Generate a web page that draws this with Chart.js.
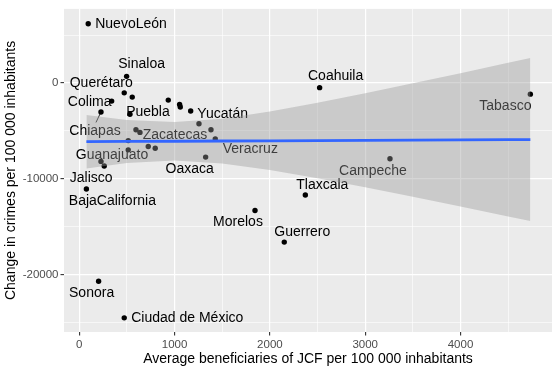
<!DOCTYPE html>
<html>
<head>
<meta charset="utf-8">
<script src="https://cdn.jsdelivr.net/npm/chart.js@4/dist/chart.umd.min.js"></script>
<style>
  html, body { margin: 0; padding: 0; background: #fff; }
  #wrap { width: 558px; height: 371px; position: relative; }
</style>
</head>
<body>
<div id="wrap"><canvas id="jcfChart"></canvas></div>
<script>
// ===== 資料 =====
const states = [
  "NuevoLeón", "Sinaloa", "Querétaro", "", "Colima", "Chiapas", "Puebla", "", "", "",
  "Yucatán", "", "", "Zacatecas", "", "Veracruz", "", "", "", "",
  "Oaxaca", "Guanajuato", "Jalisco", "BajaCalifornia", "Morelos", "Guerrero", "Tlaxcala",
  "Sonora", "Ciudad de México", "Coahuila", "Tabasco", "Campeche",
];
const beneficiaries = [
  94, 497, 472, 556, 340, 228, 532, 934, 1053, 1060,
  1169, 1256, 595, 637, 1382, 1427, 514, 514, 724, 797,
  1326, 228, 262, 75, 1844, 2151, 2372,
  203, 472, 2522, 4733, 3260,
];
const crimeChange = [
  6186, 691, -1031, -1474, -1887, -3021, -3268, -1784, -2237, -2505,
  -2918, -4258, -4876, -5155, -4876, -5842, -6010, -6976, -6632, -6804,
  -7732, -8179, -8660, -11062, -13299, -16598, -11680,
  -20691, -24505, -485, -1165, -7907,
];

// 迴歸線與信賴帶
const fitX = [75, 500, 1000, 1500, 2000, 2500, 3000, 3500, 4000, 4500, 4733];
const fitY = [-6120, -6100, -6076, -6053, -6029, -6006, -5982, -5958, -5935, -5911, -5900];
const bandUpper = [-3330, -3854, -4064, -3718, -2986, -2074, -1077, -36, 1026, 2107, 2612];
const bandLower = [-8910, -8346, -8088, -8388, -9072, -9938, -10887, -11880, -12896, -13929, -14412];

// 刻度 (主要 + 次要格線)
const xTicks = [0, 500, 1000, 1500, 2000, 2500, 3000, 3500, 4000, 4500];
const xTickLabels = ["0", "", "1000", "", "2000", "", "3000", "", "4000", ""];
const yTicks = [-25000, -20000, -15000, -10000, -5000, 0, 5000];
const yTickLabels = ["", "-20000", "", "-10000", "", "0", ""];

// ===== 標籤位置 (像素偏移) =====
const labelLayout = {
  "NuevoLeón": { dx: 7, dy: 0, align: "left" },
  "Sinaloa": { dx: 15, dy: -12 },
  "Querétaro": { dx: -23, dy: -10 },
  "Colima": { dx: -22, dy: 1 },
  "Chiapas": { dx: -6, dy: 19, leader: true },
  "Puebla": { dx: 18, dy: -2 },
  "Yucatán": { dx: 32, dy: 3 },
  "Zacatecas": { dx: 35, dy: 3 },
  "Veracruz": { dx: 35, dy: 10 },
  "Oaxaca": { dx: -16, dy: 12 },
  "Guanajuato": { dx: 11, dy: -6 },
  "Jalisco": { dx: -13, dy: 12 },
  "BajaCalifornia": { dx: 26, dy: 12 },
  "Morelos": { dx: -17, dy: 12 },
  "Guerrero": { dx: 18, dy: -10 },
  "Tlaxcala": { dx: 17, dy: -10 },
  "Sonora": { dx: -7, dy: 12 },
  "Ciudad de México": { dx: 7, dy: 0, align: "left" },
  "Coahuila": { dx: 16, dy: -11 },
  "Tabasco": { dx: -25, dy: 12 },
  "Campeche": { dx: -17, dy: 12 },
};

const FONT = "'Liberation Sans', Arial, sans-serif";

// 面板背景
const panelBg = {
  id: "panelBg",
  beforeDraw(chart) {
    const { ctx, chartArea: a } = chart;
    ctx.save();
    ctx.fillStyle = "#EBEBEB";
    ctx.fillRect(a.left, a.top, a.right - a.left, a.bottom - a.top);
    ctx.restore();
  },
};

// 州名標籤 (畫在點之後、信賴帶之前)
const stateLabels = {
  id: "stateLabels",
  afterDatasetDraw(chart, args) {
    if (args.index !== 0) return;
    const { ctx } = chart;
    const pts = args.meta.data;
    ctx.save();
    ctx.font = "14px " + FONT;
    ctx.fillStyle = "#000";
    ctx.textBaseline = "middle";
    states.forEach((name, i) => {
      const lay = labelLayout[name];
      if (!name || !lay) return;
      const p = pts[i];
      if (lay.leader) {
        ctx.strokeStyle = "#000";
        ctx.lineWidth = 0.8;
        ctx.beginPath();
        ctx.moveTo(p.x, p.y);
        ctx.lineTo(p.x - 5, p.y + 10.5);
        ctx.stroke();
      }
      ctx.textAlign = lay.align || "center";
      ctx.fillText(name, p.x + lay.dx, p.y + lay.dy);
    });
    ctx.restore();
  },
};

const xy = (xs, ys) => xs.map((x, i) => ({ x, y: ys[i] }));

function axisOpts(ticks, labels, min, max, titleText, titlePad, fitFn) {
  const isMajor = (i) => labels[i] !== "";
  return {
    type: "linear",
    min,
    max,
    border: { display: false },
    grid: {
      color: "#FFFFFF",
      lineWidth: (c) => (isMajor(c.index) ? 1.2 : 0.6),
      tickColor: (c) => (isMajor(c.index) ? "#333333" : "rgba(0,0,0,0)"),
      tickWidth: 1.1,
      tickLength: 3.5,
    },
    afterBuildTicks: (s) => {
      s.ticks = ticks.map((v) => ({ value: v }));
    },
    ticks: {
      autoSkip: false,
      maxRotation: 0,
      minRotation: 0,
      padding: 2,
      color: "#4D4D4D",
      font: { family: FONT, size: 11.5 },
      callback: (v, i) => labels[i],
    },
    title: {
      display: true,
      text: titleText,
      color: "#000",
      font: { family: FONT, size: 14 },
      padding: titlePad,
    },
    afterFit: fitFn,
  };
}

new Chart(document.getElementById("jcfChart"), {
  type: "scatter",
  data: {
    datasets: [
      {
        label: "states",
        data: xy(beneficiaries, crimeChange),
        backgroundColor: "#000",
        borderWidth: 0,
        pointRadius: 2.7,
        order: 4,
      },
      {
        label: "upper",
        type: "line",
        data: xy(fitX, bandUpper),
        borderWidth: 0,
        borderColor: "rgba(0,0,0,0)",
        pointRadius: 0,
        fill: "+1",
        backgroundColor: "rgba(153,153,153,0.4)",
        order: 3,
      },
      {
        label: "lower",
        type: "line",
        data: xy(fitX, bandLower),
        borderWidth: 0,
        borderColor: "rgba(0,0,0,0)",
        pointRadius: 0,
        fill: false,
        order: 2,
      },
      {
        label: "fit",
        type: "line",
        data: xy(fitX, fitY),
        borderColor: "#3366FF",
        borderWidth: 2.8,
        pointRadius: 0,
        fill: false,
        order: 1,
      },
    ],
  },
  options: {
    responsive: true,
    maintainAspectRatio: false,
    animation: false,
    layout: { padding: { left: 0, top: 5, right: 6, bottom: 0 } },
    plugins: {
      legend: { display: false },
      tooltip: { enabled: false },
    },
    scales: {
      x: axisOpts(xTicks, xTickLabels, -160, 4960,
        "Average beneficiaries of JCF per 100 000 inhabitants",
        { top: 0, bottom: 3.6 }, (s) => { s.height = 39; }),
      y: axisOpts(yTicks, yTickLabels, -25980, 7730,
        "Change in crimes per 100 000 inhabitants",
        { top: 2.6, bottom: 0 }, (s) => { s.width = 64; }),
    },
  },
  plugins: [panelBg, stateLabels],
});
</script>
</body>
</html>
